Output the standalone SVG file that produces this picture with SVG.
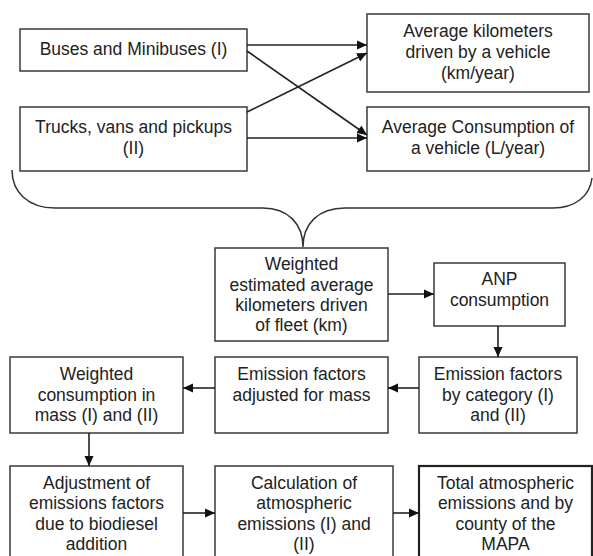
<svg xmlns="http://www.w3.org/2000/svg" width="593" height="556" viewBox="0 0 593 556">
<defs>
<style>
.box{fill:#fff;stroke:#3a3a3a;stroke-width:1.5}
.thick{stroke-width:2.2;stroke:#222}
text{font-family:"Liberation Sans",Arial,sans-serif;font-size:17.5px;fill:#222;text-anchor:middle}
.c{fill:none;stroke:#222;stroke-width:1.6}
.brace{fill:none;stroke:#333;stroke-width:1.5}
</style>
<marker id="ah" viewBox="0 0 10 10" refX="10" refY="5" markerWidth="10" markerHeight="10" markerUnits="userSpaceOnUse" orient="auto">
<path d="M0,0.5 L10,5 L0,9.5 z" fill="#111"/>
</marker>
</defs>
<rect width="593" height="556" fill="#fff"/>

<g id="buses"><rect class="box" x="20" y="29" width="227" height="42"/><text x="133.5" y="55">Buses and Minibuses (I)</text></g>
<g id="trucks"><rect class="box" x="20" y="107" width="227" height="64"/><text x="133.5" y="133">Trucks, vans and pickups</text><text x="133.5" y="154">(II)</text></g>
<g id="avgkm"><rect class="box" x="367" y="14" width="222" height="78"/><text x="478" y="37">Average kilometers</text><text x="478" y="58">driven by a vehicle</text><text x="478" y="78.5">(km/year)</text></g>
<g id="avgcons"><rect class="box" x="367" y="107" width="222" height="64"/><text x="478" y="133">Average Consumption of</text><text x="478" y="154">a vehicle (L/year)</text></g>

<g id="weighted"><rect class="box" x="215" y="248" width="173" height="93"/><text x="301.5" y="270">Weighted</text><text x="301.5" y="290.5">estimated average</text><text x="301.5" y="311">kilometers driven</text><text x="301.5" y="331">of fleet (km)</text></g>
<g id="anp"><rect class="box" x="434" y="263" width="131" height="63"/><text x="499.5" y="285">ANP</text><text x="499.5" y="305.5">consumption</text></g>

<g id="wcons"><rect class="box" x="10" y="357" width="173" height="76"/><text x="96.5" y="380">Weighted</text><text x="96.5" y="400.5">consumption in</text><text x="96.5" y="421">mass (I) and (II)</text></g>
<g id="efmass"><rect class="box" x="215" y="357" width="173" height="76"/><text x="301.5" y="380">Emission factors</text><text x="301.5" y="400.5">adjusted for mass</text></g>
<g id="efcat"><rect class="box" x="419" y="357" width="158" height="76"/><text x="498" y="380">Emission factors</text><text x="498" y="400.5">by category (I)</text><text x="498" y="421">and (II)</text></g>

<g id="adjust"><rect class="box" x="10" y="466" width="173" height="100"/><text x="96.5" y="488.5">Adjustment of</text><text x="96.5" y="509">emissions factors</text><text x="96.5" y="529.5">due to biodiesel</text><text x="96.5" y="550">addition</text></g>
<g id="calc"><rect class="box" x="215" y="466" width="178" height="100"/><text x="304" y="488.5">Calculation of</text><text x="304" y="509">atmospheric</text><text x="304" y="529.5">emissions (I) and</text><text x="304" y="550">(II)</text></g>
<g id="total"><rect class="box thick" x="419" y="466" width="173" height="100"/><text x="505.5" y="488.5">Total atmospheric</text><text x="505.5" y="509">emissions and by</text><text x="505.5" y="529.5">county of the</text><text x="505.5" y="550">MAPA</text></g>

<g id="connectors">
<path class="brace" d="M12,170 C12,192 28,208 55,208 L263,208 C288,208 303,224 303,247 C303,224 318,208 345,208 L553,208 C575,208 590,196 592,178"/>
<line class="c" x1="247" y1="45" x2="367" y2="45" marker-end="url(#ah)"/>
<line class="c" x1="247" y1="51" x2="367" y2="135" marker-end="url(#ah)"/>
<line class="c" x1="247" y1="112" x2="367" y2="53" marker-end="url(#ah)"/>
<line class="c" x1="247" y1="138" x2="367" y2="138" marker-end="url(#ah)"/>
<line class="c" x1="388" y1="294" x2="434" y2="294" marker-end="url(#ah)"/>
<line class="c" x1="498" y1="326" x2="498" y2="357" marker-end="url(#ah)"/>
<line class="c" x1="419" y1="388" x2="388" y2="388" marker-end="url(#ah)"/>
<line class="c" x1="215" y1="388" x2="183" y2="388" marker-end="url(#ah)"/>
<line class="c" x1="89" y1="433" x2="89" y2="466" marker-end="url(#ah)"/>
<line class="c" x1="183" y1="513" x2="215" y2="513" marker-end="url(#ah)"/>
<line class="c" x1="393" y1="513" x2="419" y2="513" marker-end="url(#ah)"/>
</g>
</svg>
